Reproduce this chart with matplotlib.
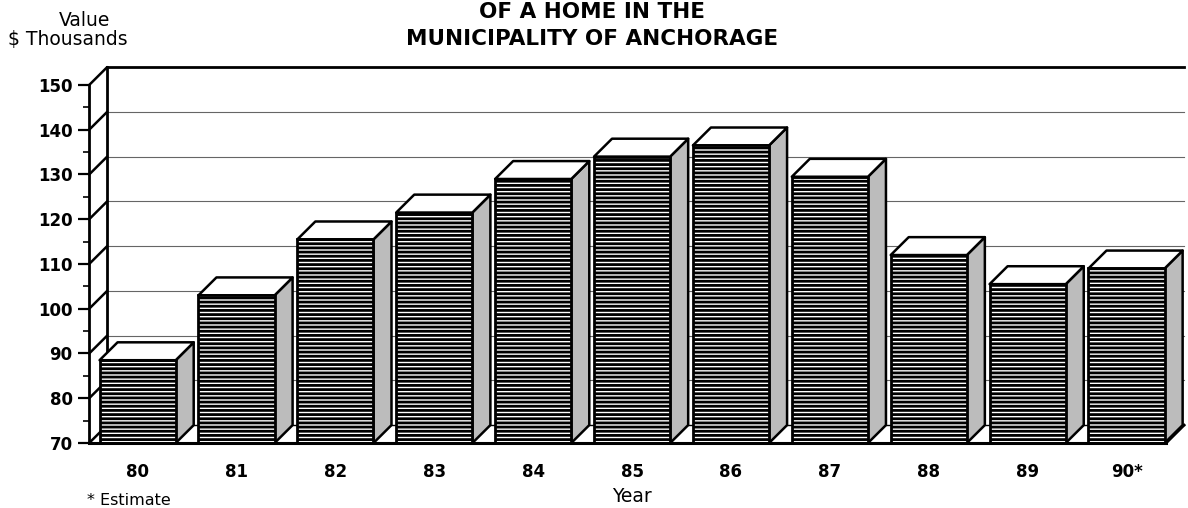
import matplotlib
matplotlib.use("Agg")
import matplotlib.pyplot as plt
from matplotlib.patches import Polygon

# data
years = ["80", "81", "82", "83", "84", "85", "86", "87", "88", "89", "90*"]
values = [88.5, 103, 115.5, 121.5, 129, 134, 136.5, 129.5, 112, 105.5, 109]
y_ticks = [70, 80, 90, 100, 110, 120, 130, 140, 150]
title_lines = ["OF A HOME IN THE", "MUNICIPALITY OF ANCHORAGE"]

plt.rcParams["font.family"] = ["DejaVu Sans"]
plt.rcParams["hatch.linewidth"] = 2.0
plt.rcParams["hatch.color"] = "black"

W, H = 1188, 508
fig = plt.figure(figsize=(W / 100, H / 100), dpi=100)
ax = fig.add_axes([78.3 / W, 1 - 451.95 / H, 1107.6 / W, 393.8 / H])
ax.set_xlim(-0.6, 10.6)
ax.set_ylim(68, 156)

# fake 3d depth (data units) and box extents
dx, dy = 0.182, 4.0
bw = 0.77
x_front = -0.49
x_end = 10.40
ymin, ymax = y_ticks[0], y_ticks[-1]

# back wall
for v in y_ticks[1:-1]:
    ax.plot([x_front + dx, x_end + dx], [v + dy, v + dy], color="#666666",
            lw=0.8, zorder=1)
for v in y_ticks:
    ax.plot([x_front, x_front + dx], [v, v + dy], color="black", lw=1.8,
            zorder=2, solid_capstyle="round")
ax.plot([x_front + dx, x_front + dx], [ymin + dy, ymax + dy], color="black",
        lw=2, zorder=2)
ax.plot([x_front + dx, x_end + dx], [ymax + dy, ymax + dy], color="black",
        lw=2, zorder=2)

# floor
ax.plot([x_front + dx, x_end + dx], [ymin + dy, ymin + dy], color="black",
        lw=1, zorder=1)
ax.plot([x_front, x_end], [ymin, ymin], color="black", lw=2.2, zorder=6,
        clip_on=False)
ax.plot([x_end, x_end + dx], [ymin, ymin + dy], color="black", lw=2, zorder=6)

# bars: side + top faces first, then the striped front
xs = list(range(len(years)))
for x, v in zip(xs, values):
    xl, xr = x - bw / 2, x + bw / 2
    side = Polygon([(xr, ymin), (xr + dx, ymin + dy), (xr + dx, v + dy), (xr, v)],
                   closed=True, facecolor="#bcbcbc", edgecolor="black", lw=1.8,
                   zorder=3, joinstyle="round")
    top = Polygon([(xl, v), (xl + dx, v + dy), (xr + dx, v + dy), (xr, v)],
                  closed=True, facecolor="white", edgecolor="black", lw=1.8,
                  zorder=3, joinstyle="round")
    ax.add_patch(side)
    ax.add_patch(top)

ax.bar(xs, [v - ymin for v in values], bottom=ymin, width=bw, color="white",
       edgecolor="black", lw=2, hatch="----", zorder=4)

# axes styling
for s in ["top", "right", "bottom"]:
    ax.spines[s].set_visible(False)
ax.spines["left"].set_position(("data", x_front))
ax.spines["left"].set_bounds(ymin, ymax)
ax.spines["left"].set_linewidth(2)
ax.spines["left"].set_zorder(5)

ax.set_yticks(y_ticks, labels=[str(v) for v in y_ticks], fontsize=12,
              fontweight="bold")
ax.set_yticks([v + 5 for v in y_ticks[:-1]], minor=True)
ax.tick_params(axis="y", which="major", length=8, width=1.6, pad=4)
ax.tick_params(axis="y", which="minor", length=4, width=1.2)

ax.set_xticks(xs, labels=years, fontsize=12, fontweight="bold")
ax.tick_params(axis="x", length=0, pad=8)
ax.set_xlabel("Year", fontsize=13.5, labelpad=4)

# titles and notes
fig.text(592 / W, 1 - 18.5 / H, title_lines[0], ha="center", va="baseline",
         fontsize=15.5, fontweight="bold")
fig.text(592 / W, 1 - 45 / H, title_lines[1], ha="center", va="baseline",
         fontsize=15.5, fontweight="bold")
fig.text(85 / W, 1 - 26 / H, "Value", ha="center", va="baseline", fontsize=13.5)
fig.text(67.5 / W, 1 - 45 / H, "$ Thousands", ha="center", va="baseline",
         fontsize=13.5)
fig.text(87 / W, 1 - 505 / H, "* Estimate", ha="left", va="baseline",
         fontsize=11.5)

fig.savefig("out.png", dpi=100)
